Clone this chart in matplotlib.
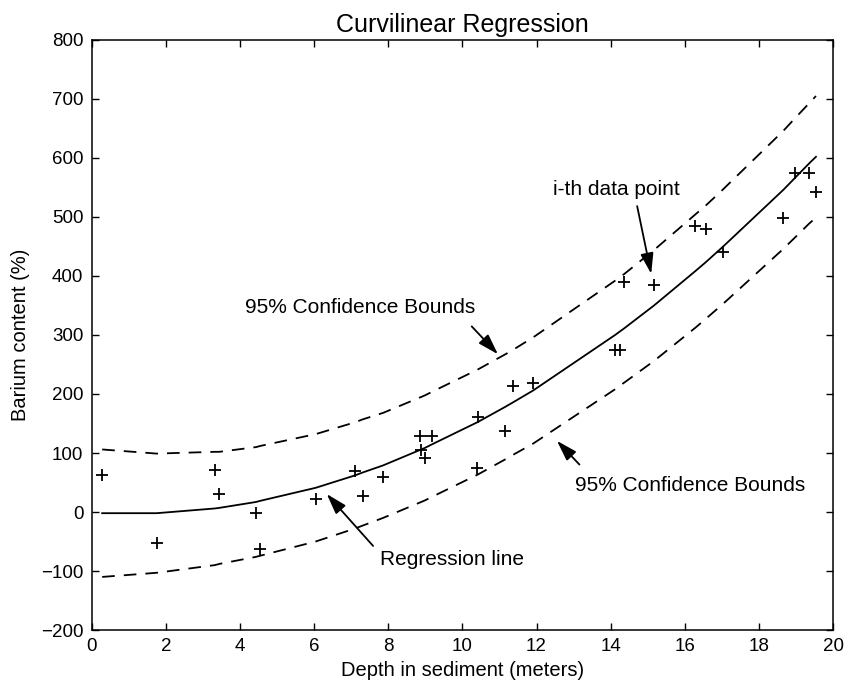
import numpy as np
import matplotlib.pyplot as plt

plt.rcParams['font.family'] = ['Liberation Sans', 'DejaVu Sans']

# measured data (depth in meters, barium content)
depth = [0.28, 1.75, 3.32, 3.44, 4.43, 4.55, 6.04, 7.10, 7.31, 7.86,
         8.85, 8.89, 9.00, 9.19, 10.40, 10.43, 11.15, 11.37, 11.91, 14.12,
         14.25, 14.36, 15.17, 16.28, 16.56, 17.02, 18.66, 18.97, 19.36, 19.54]
barium = [63, -53, 71, 30, -1, -63, 22, 70, 27, 59,
          129, 105, 91, 129, 74, 161, 137, 214, 219, 275,
          275, 389, 385, 485, 479, 440, 499, 574, 574, 543]

fit = [-2, -2, 6, 7, 17, 19, 41, 62, 67, 79,
       105, 106, 109, 115, 152, 153, 178, 186, 206, 300,
       306, 311, 350, 408, 423, 449, 546, 566, 591, 602]
upper = [106, 99, 102, 102, 110, 112, 132, 152, 157, 168,
         194, 195, 198, 204, 241, 242, 267, 275, 296, 392,
         398, 403, 444, 504, 519, 546, 646, 667, 693, 705]
lower = [-110, -103, -90, -88, -76, -74, -50, -28, -23, -10,
         16, 17, 20, 26, 63, 64, 89, 97, 116, 208,
         214, 219, 256, 312, 327, 352, 446, 465, 489, 499]

fig = plt.figure(figsize=(8.5, 6.89), dpi=100)
ax = fig.add_axes([0.108, 0.0856, 0.872, 0.8564])

ax.plot(depth, barium, 'k+', markersize=8, markeredgewidth=1.3)
ax.plot(depth, fit, 'k-', linewidth=1.3)
ax.plot(depth, upper, 'k--', linewidth=1.3, dashes=(7, 5))
ax.plot(depth, lower, 'k--', linewidth=1.3, dashes=(7, 5))

ax.set_xlim(0, 20)
ax.set_ylim(-200, 800)
ax.set_xticks(np.arange(0, 21, 2))
ax.set_yticks(np.arange(-200, 801, 100))
ax.tick_params(direction='in', top=True, right=True, length=5, width=1,
               labelsize=13.5, pad=6)
for s in ax.spines.values():
    s.set_linewidth(1.1)

ax.set_title('Curvilinear Regression', fontsize=18, pad=6)
ax.set_xlabel('Depth in sediment (meters)', fontsize=14.5, labelpad=4)
ax.set_ylabel('Barium content (%)', fontsize=14.5, labelpad=8)

arw = dict(arrowstyle='-|>,head_length=0.7,head_width=0.22', color='k',
           lw=1.3, mutation_scale=18)
ax.annotate('i-th data point', xy=(15.11, 399), xytext=(12.44, 546),
            fontsize=15, ha='left', va='center')
ax.annotate('', xy=(15.11, 399), xytext=(14.70, 523), arrowprops=arw)

ax.text(10.36, 346, '95% Confidence Bounds', fontsize=15, ha='right', va='center')
ax.annotate('', xy=(11.01, 264), xytext=(10.20, 318), arrowprops=arw)

ax.text(13.04, 45, '95% Confidence Bounds', fontsize=15, ha='left', va='center')
ax.annotate('', xy=(12.50, 124), xytext=(13.21, 77), arrowprops=arw)

ax.text(7.77, -80, 'Regression line', fontsize=15, ha='left', va='center')
ax.annotate('', xy=(6.29, 34), xytext=(7.64, -61), arrowprops=arw)

fig.savefig('out.png', dpi=100)
